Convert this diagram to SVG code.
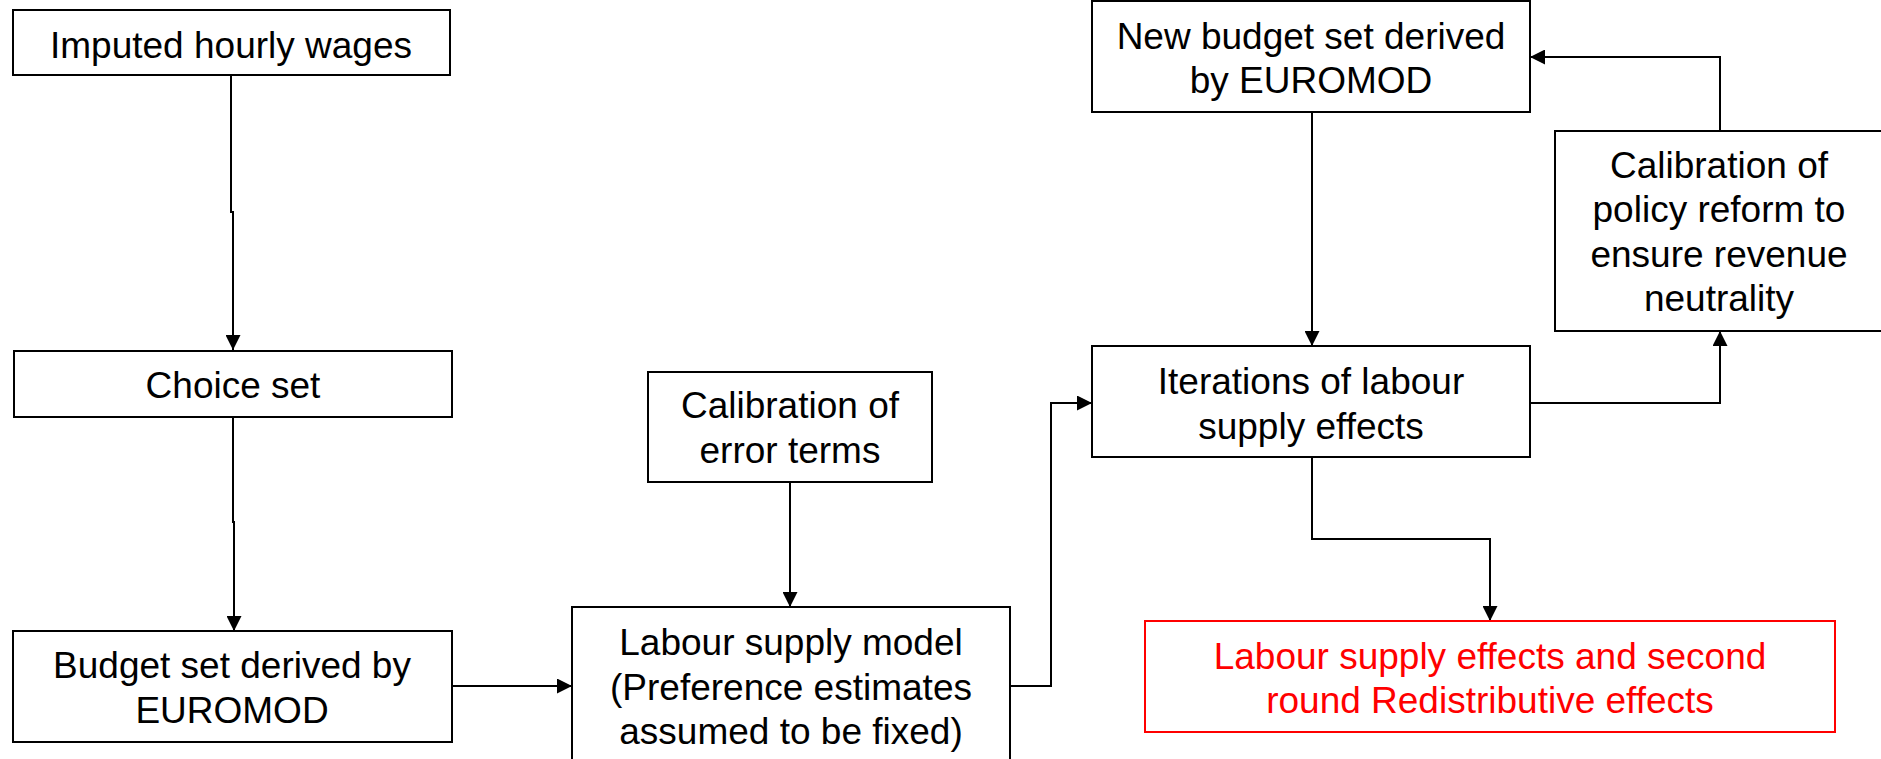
<svg xmlns="http://www.w3.org/2000/svg" width="1881" height="759" viewBox="0 0 1881 759">
  <style>
    .box { fill: #ffffff; stroke: #000000; stroke-width: 2; }
    .box-red { fill: #ffffff; stroke: #ff0000; stroke-width: 2; }
    .label { font-family: "Liberation Sans", Arial, sans-serif; font-size: 37px; fill: #000000; text-anchor: middle; }
    .label-red { fill: #ff0000; }
    .edge { fill: none; stroke: #000000; stroke-width: 2; marker-end: url(#arrow); }
  </style>
  <defs>
    <marker id="arrow" markerUnits="userSpaceOnUse" markerWidth="16" markerHeight="15" refX="15" refY="7.5" orient="auto">
      <path d="M0,0 L15,7.5 L0,15 Z" fill="#000000"/>
    </marker>
  </defs>

  <rect width="1881" height="759" fill="#ffffff"/>

  <!-- connectors -->
  <g id="connectors">
    <path class="edge" d="M231,75 V212 H233 V350"/>
    <path class="edge" d="M233,417 V522 H234 V631"/>
    <path class="edge" d="M452,686 H572"/>
    <path class="edge" d="M790,482 V607"/>
    <path class="edge" d="M1010,686 H1051 V403 H1092"/>
    <path class="edge" d="M1312,112 V346"/>
    <path class="edge" d="M1530,403 H1720 V331"/>
    <path class="edge" d="M1720,130 V57 H1530"/>
    <path class="edge" d="M1312,457 V539 H1490 V621"/>
  </g>

  <!-- nodes -->
  <g id="imputed-wages">
    <rect class="box" x="13" y="10" width="437" height="65"/>
    <text class="label" x="231" y="58">Imputed hourly wages</text>
  </g>

  <g id="choice-set">
    <rect class="box" x="14" y="351" width="438" height="66"/>
    <text class="label" x="233" y="398">Choice set</text>
  </g>

  <g id="budget-set">
    <rect class="box" x="13" y="631" width="439" height="111"/>
    <text class="label" x="232" y="678">Budget set derived by</text>
    <text class="label" x="232" y="723">EUROMOD</text>
  </g>

  <g id="calibration-error">
    <rect class="box" x="648" y="372" width="284" height="110"/>
    <text class="label" x="790" y="418">Calibration of</text>
    <text class="label" x="790" y="463">error terms</text>
  </g>

  <g id="labour-supply-model">
    <rect class="box" x="572" y="607" width="438" height="170"/>
    <text class="label" x="791" y="655">Labour supply model</text>
    <text class="label" x="791" y="700">(Preference estimates</text>
    <text class="label" x="791" y="744">assumed to be fixed)</text>
  </g>

  <g id="new-budget-set">
    <rect class="box" x="1092" y="1" width="438" height="111"/>
    <text class="label" x="1311" y="49">New budget set derived</text>
    <text class="label" x="1311" y="93">by EUROMOD</text>
  </g>

  <g id="calibration-policy">
    <rect class="box" x="1555" y="131" width="340" height="200"/>
    <text class="label" x="1719" y="178">Calibration of</text>
    <text class="label" x="1719" y="222">policy reform to</text>
    <text class="label" x="1719" y="267">ensure revenue</text>
    <text class="label" x="1719" y="311">neutrality</text>
  </g>

  <g id="iterations">
    <rect class="box" x="1092" y="346" width="438" height="111"/>
    <text class="label" x="1311" y="394">Iterations of labour</text>
    <text class="label" x="1311" y="439">supply effects</text>
  </g>

  <g id="final-effects">
    <rect class="box-red" x="1145" y="621" width="690" height="111"/>
    <text class="label label-red" x="1490" y="669">Labour supply effects and second</text>
    <text class="label label-red" x="1490" y="713">round Redistributive effects</text>
  </g>
</svg>
